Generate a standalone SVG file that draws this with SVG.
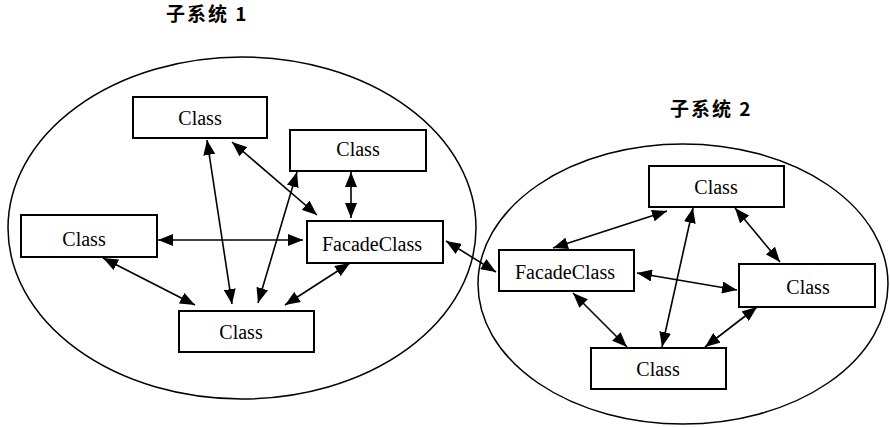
<svg xmlns="http://www.w3.org/2000/svg" width="890" height="427" viewBox="0 0 890 427">
<style>
.sub{fill:none;stroke:#000;stroke-width:1.5}
.box{fill:#fff;stroke:#000;stroke-width:2}
.lbl{font-family:"Liberation Serif","Times New Roman",serif;font-size:20px;text-anchor:middle;fill:#000}
.ttl{font-family:"Noto Sans CJK SC","Liberation Serif",sans-serif;font-size:19px;font-weight:bold;letter-spacing:2px;fill:#000}
.con line{stroke:#000;stroke-width:1.6;marker-start:url(#ah);marker-end:url(#ah)}
</style>
<defs>
<marker id="ah" markerUnits="userSpaceOnUse" markerWidth="15" markerHeight="12" refX="15" refY="6" orient="auto-start-reverse">
<path d="M0,0 L15,6 L0,12 z" fill="#000"/>
</marker>
</defs>
<text class="ttl" x="166" y="21">子系统 1</text>
<text class="ttl" x="670" y="116">子系统 2</text>
<ellipse id="subsystem1" class="sub" cx="242" cy="228" rx="234" ry="171"/>
<ellipse id="subsystem2" class="sub" cx="683" cy="284" rx="205" ry="140"/>
<g class="con">
<line x1="207" y1="140" x2="232" y2="304"/>
<line x1="232" y1="142" x2="317" y2="215"/>
<line x1="297" y1="172" x2="258" y2="303"/>
<line x1="351" y1="172" x2="351" y2="218"/>
<line x1="158" y1="240" x2="303" y2="240"/>
<line x1="103" y1="258" x2="195" y2="305"/>
<line x1="350" y1="263" x2="285" y2="305"/>
<line x1="446" y1="241" x2="496" y2="272"/>
<line x1="553" y1="248" x2="667" y2="211"/>
<line x1="693" y1="208" x2="662" y2="347"/>
<line x1="735" y1="208" x2="780" y2="262"/>
<line x1="637" y1="273" x2="737" y2="290"/>
<line x1="573" y1="293" x2="627" y2="347"/>
<line x1="757" y1="307" x2="705" y2="347"/>
</g>
<g id="s1-class-top"><rect class="box" x="133" y="97" width="134" height="41"/><text class="lbl" x="200" y="125">Class</text></g>
<g id="s1-class-topright"><rect class="box" x="290" y="130" width="136" height="41"/><text class="lbl" x="358" y="156">Class</text></g>
<g id="s1-class-left"><rect class="box" x="21" y="215" width="136" height="42"/><text class="lbl" x="84" y="246">Class</text></g>
<g id="s1-facade"><rect class="box" x="307" y="221" width="136" height="42"/><text class="lbl" x="372" y="251">FacadeClass</text></g>
<g id="s1-class-bottom"><rect class="box" x="179" y="311" width="135" height="41"/><text class="lbl" x="241" y="339">Class</text></g>
<g id="s2-class-top"><rect class="box" x="649" y="166" width="135" height="41"/><text class="lbl" x="716" y="194">Class</text></g>
<g id="s2-facade"><rect class="box" x="499" y="250" width="135" height="41"/><text class="lbl" x="565" y="279">FacadeClass</text></g>
<g id="s2-class-right"><rect class="box" x="739" y="264" width="136" height="43"/><text class="lbl" x="808" y="294">Class</text></g>
<g id="s2-class-bottom"><rect class="box" x="591" y="348" width="135" height="41"/><text class="lbl" x="658" y="376">Class</text></g>
</svg>
